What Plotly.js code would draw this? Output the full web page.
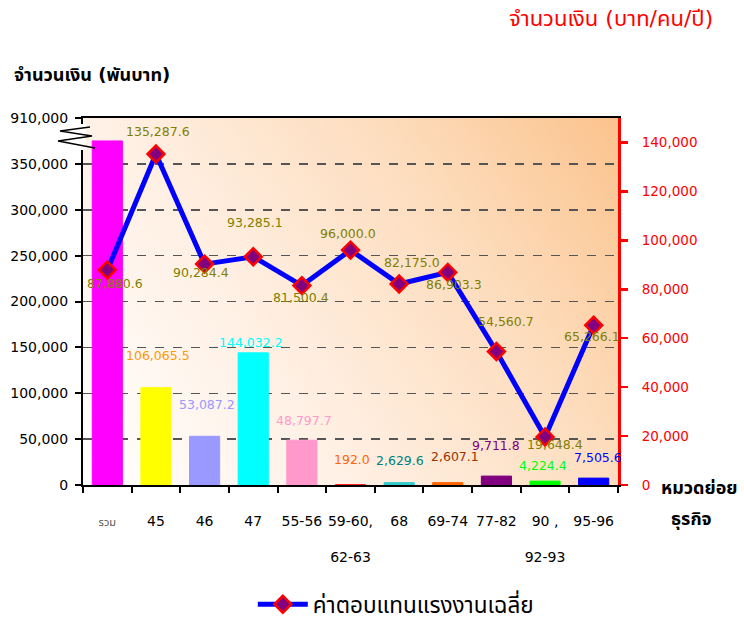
<!DOCTYPE html>
<html><head><meta charset="utf-8">
<script src="https://cdn.plot.ly/plotly-3.0.1.min.js"></script>
<style>body{margin:0;background:#fff}#chart{width:744px;height:617px}</style>
</head><body><div id="chart"></div>
<script>
// ---- data ----
const categories = ["รวม","45","46","47","55-56","59-60,62-63","68","69-74","77-82","90,92-93","95-96"];
const tickLabels = ["<span style='font-size:11px;color:#555'>รวม</span>","45","46","47","55-56","59-60,<br><br>62-63","68","69-74","77-82","90 ,<br><br>92-93","95-96"];
// bar values (thousand baht); total bar drawn on broken axis (top label 910,000)
const barValues = [375000, 106065.5, 53087.2, 144032.2, 48797.7, 192.0, 2629.6, 2607.1, 9711.8, 4224.4, 7505.6];
const barShowLabel = [false, true, true, true, true, true, true, true, true, true, true];
// average compensation (baht/person/year)
const lineValues = [87880.6, 135287.6, 90284.4, 93285.1, 81500.4, 96000.0, 82175.0, 86903.3, 54560.7, 19648.4, 65266.1];
const leftTickVals = [0,50000,100000,150000,200000,250000,300000,350000,400000];
const leftTickText = ["0","50,000","100,000","150,000","200,000","250,000","300,000","350,000","910,000"];
const rightTickVals = [0,20000,40000,60000,80000,100000,120000,140000];
const rightTickText = ["0","20,000","40,000","60,000","80,000","100,000","120,000","140,000"];
const legendName = "ค่าตอบแทนแรงงานเฉลี่ย";

// ---- styles ----
const barColors = ["#FF00FF","#FFFF00","#9999FF","#00FFFF","#FF99CC","#FF0000","#33CCCC","#FF6600","#800080","#00FF00","#0000FF"];
const barLabelColors = ["#000","#FF9900","#9999FF","#00FFFF","#FF99CC","#FF6600","#008080","#993300","#800080","#00FF00","#0000FF"];
const barLabelShift = [[0,0],[2,32],[2,32],[-2,10],[2,20],[1,25],[1,22],[7,26],[0,31],[-2,16],[4,21]];
const lineLabelShift = [[8,-14],[2,23],[-4,-8],[2,34],[-1,-12],[-3,17],[13,21],[6,-12],[10,30],[10,-8],[-2,-11]];
const FONT = "Tahoma, 'DejaVu Sans', 'Noto Sans Thai', 'Noto Sans', sans-serif";
const fmt = v => v.toLocaleString('en-US',{minimumFractionDigits:1, maximumFractionDigits:1});

// gradient background image
const cv = document.createElement('canvas'); cv.width = 535; cv.height = 367;
const ctx = cv.getContext('2d');
const g = ctx.createLinearGradient(0, 367, 535, 0);
g.addColorStop(0, '#FFFFFF'); g.addColorStop(0.35, '#FFF0E4'); g.addColorStop(0.7, '#FDDCBC'); g.addColorStop(1, '#FBC38D');
ctx.fillStyle = g; ctx.fillRect(0,0,535,367);
const bgUrl = cv.toDataURL();

const PL = 83, PR = 618, PT = 118, PB = 485;
const px = x => (x-PL)/(PR-PL), py = y => (PB-y)/(PB-PT);

const annotations = [];
categories.forEach((c,i) => {
  if (barShowLabel[i]) annotations.push({x:i, y:barValues[i], xref:'x', yref:'y', text:fmt(barValues[i]), showarrow:false,
    xanchor:'center', yanchor:'middle',
    xshift:barLabelShift[i][0], yshift:barLabelShift[i][1], font:{family:FONT,size:12.5,color:barLabelColors[i]}});
  annotations.push({x:i, y:lineValues[i], xref:'x', yref:'y2', text:fmt(lineValues[i]), showarrow:false,
    xanchor:'center', yanchor:'middle',
    xshift:lineLabelShift[i][0], yshift:lineLabelShift[i][1], font:{family:FONT,size:12.5,color:'#808000'}});
});
annotations.push(
  {xref:'paper',yref:'paper',x:px(611),xanchor:'center',yanchor:'middle',y:py(19),text:'จำนวนเงิน (บาท/คน/ปี)',showarrow:false,font:{family:FONT,size:22,color:'#FF0000'}},
  {xref:'paper',yref:'paper',x:px(12),xanchor:'left',yanchor:'middle',y:py(75),text:'<b>จำนวนเงิน (พันบาท)</b>',showarrow:false,font:{family:FONT,size:18,color:'#000'}},
  {xref:'paper',yref:'paper',x:px(659),xanchor:'left',yanchor:'middle',y:py(487),text:'<b>หมวดย่อย</b>',showarrow:false,font:{family:FONT,size:18,color:'#000'}},
  {xref:'paper',yref:'paper',x:px(691),xanchor:'center',yanchor:'middle',y:py(519),text:'<b>ธุรกิจ</b>',showarrow:false,font:{family:FONT,size:18,color:'#000'}}
);

const traces = [
  {type:'bar', x:categories, y:barValues, marker:{color:barColors, line:{color:barColors,width:1}}, width:0.62, showlegend:false, hoverinfo:'x+y'},
  {type:'scatter', mode:'lines+markers', x:categories, y:lineValues, yaxis:'y2', name:legendName,
   line:{color:'#0000FF', width:5}, marker:{symbol:'diamond', size:13, color:'#800080', line:{color:'#FF0000', width:2.5}}}
];

const layout = {
  width:744, height:617, margin:{l:PL, r:744-PR, t:PT, b:617-PB},
  paper_bgcolor:'#fff', plot_bgcolor:'rgba(0,0,0,0)',
  font:{family:FONT, size:14, color:'#000'},
  xaxis:{type:'category', tickvals:categories, ticktext:tickLabels, tickson:'boundaries', ticks:'outside', ticklen:6, tickwidth:2, tickcolor:'#000', tickangle:0,
    showline:true, linecolor:'#000', linewidth:2, mirror:true, showgrid:false, ticklabelstandoff:22, tickfont:{family:FONT,size:14,color:'#000'}, range:[-0.5,10.5], automargin:false},
  yaxis:{range:[0,400000], tickvals:leftTickVals, ticktext:leftTickText, ticks:'outside', ticklen:6, tickwidth:2, tickcolor:'#000',
    showline:true, linecolor:'#000', linewidth:2, showgrid:true, gridcolor:'#555', griddash:'dash', gridwidth:1.5, zeroline:false, ticklabelstandoff:4, tickfont:{family:FONT,size:14,color:'#000'}, automargin:false},
  yaxis2:{range:[0,150000], overlaying:'y', side:'right', tickvals:rightTickVals, ticktext:rightTickText, ticks:'outside', ticklen:7, tickwidth:2.5, tickcolor:'#FF0000',
    showline:true, linecolor:'#FF0000', linewidth:3, showgrid:false, zeroline:false, ticklabelstandoff:11, tickfont:{family:FONT,size:13.5,color:'#FF0000'}, automargin:false},
  images:[{source:bgUrl, xref:'paper', yref:'paper', x:0, y:1, sizex:1, sizey:1, sizing:'stretch', layer:'below'}],
  bargap:0.38,
  legend:{orientation:'h', xref:'container', yref:'container', x:0.532, xanchor:'center', y:0.02, yanchor:'middle', font:{family:FONT,size:22.5,color:'#000'}, bgcolor:'rgba(0,0,0,0)', itemwidth:50},
  annotations:annotations,
  shapes:[
    {type:'rect', xref:'paper', yref:'paper', x0:px(78), x1:px(86), y0:py(150), y1:py(124), fillcolor:'#fff', line:{width:0}, layer:'above'},
    {type:'path', xref:'paper', yref:'paper', layer:'above', line:{color:'#000', width:1.3},
     path:`M ${px(90)},${py(127)} L ${px(60)},${py(131)} L ${px(92)},${py(136)} L ${px(58)},${py(141)} L ${px(95)},${py(148)}`}
  ]
};
Plotly.newPlot('chart', traces, layout, {displayModeBar:false, staticPlot:true});
</script></body></html>
